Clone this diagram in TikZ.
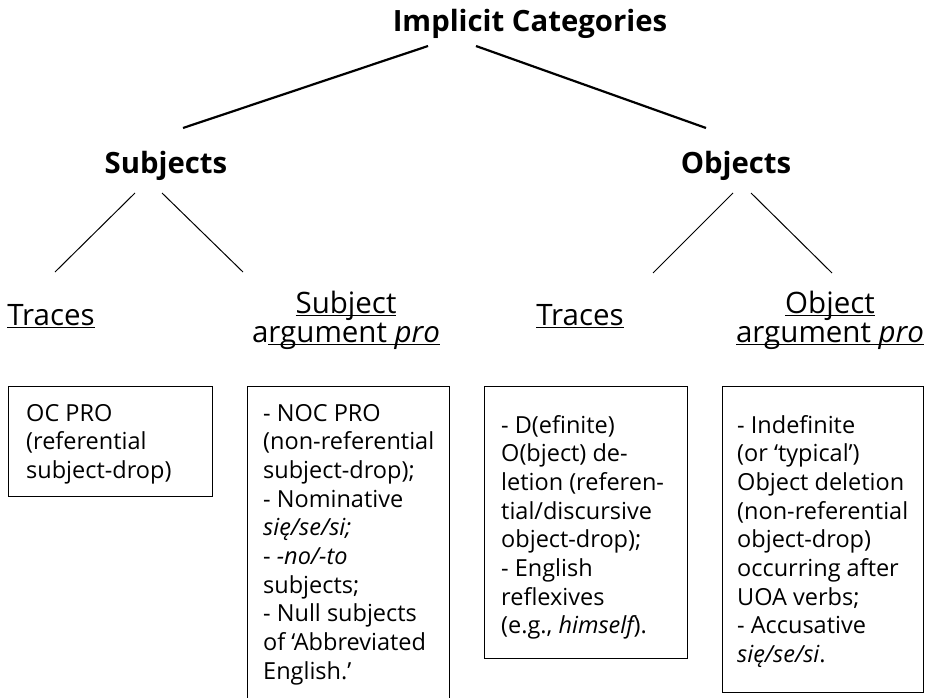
\documentclass[tikz,border=0pt]{standalone}
\usepackage{fontspec}
\setmainfont{Open Sans}
\usetikzlibrary{calc}

% underline at a fixed distance below the baseline (crosses descenders)
\newsavebox\ulinebox
\newcommand\ulx[1]{\sbox\ulinebox{#1}\rlap{\rule[-3.4pt]{\wd\ulinebox}{1.4pt}}\usebox\ulinebox}
% stacked lines whose baseline is that of the first line
\newcommand\leftlines[1]{\begin{tabular}[t]{@{}l@{}}#1\end{tabular}}
\newcommand\centerlines[1]{\begin{tabular}[t]{@{}c@{}}#1\end{tabular}}

\begin{document}
\begin{tikzpicture}[x=1pt,y=-1pt,
  head/.style={font=\fontsize{29.3}{34}\selectfont\bfseries, inner sep=0pt, anchor=base},
  cat/.style={font=\fontsize{29.5}{29}\selectfont, inner sep=0pt, anchor=base},
  box/.style={draw, line width=1.3pt, inner sep=0pt, anchor=north west},
  boxtext/.style={font=\fontsize{23.5}{28.7}\selectfont, inner sep=0pt, anchor=base west},
  branch/.style={line width=2.2pt},
  twig/.style={line width=1pt}]
\useasboundingbox (0,0) rectangle (929,698);

% headings
\node[head] (title) at (530,32) {Implicit Categories};
\node[head] (subj) at (166,173) {Subjects};
\node[head] (obj) at (736,173) {Objects};

% categories
\node[cat] (subjtr) at (51,325) {\ulx{Traces}};
\node[cat] (subjpro) at (346,313) {\centerlines{\ulx{Subject}\\a\ulx{rgument {\itshape pro}}}};
\node[cat] (objtr) at (580,325) {\ulx{Traces}};
\node[cat] (objpro) at (830,313) {\centerlines{\ulx{Object}\\\ulx{argument {\itshape pro}}}};

% branch end points
\coordinate (title-l) at (428,46);
\coordinate (title-r) at (476,46);
\coordinate (subj-top) at (183,128);
\coordinate (obj-top) at (706,128);
\coordinate (subj-l) at (135,193);
\coordinate (subj-r) at (162,193);
\coordinate (obj-l) at (733,193);
\coordinate (obj-r) at (751,193);
\coordinate (subjtr-top) at (55,272);
\coordinate (subjpro-top) at (243,272);
\coordinate (objtr-top) at (653,273);
\coordinate (objpro-top) at (832,273);

\draw[branch] (title-l) -- (subj-top);
\draw[branch] (title-r) -- (obj-top);
\draw[twig] (subj-l) -- (subjtr-top);
\draw[twig] (subj-r) -- (subjpro-top);
\draw[twig] (obj-l) -- (objtr-top);
\draw[twig] (obj-r) -- (objpro-top);

% boxes
\node[box, minimum width=204pt, minimum height=110pt] (b1) at (8,386) {};
\node[box, minimum width=202pt, minimum height=330pt] (b2) at (247,386) {};
\node[box, minimum width=203pt, minimum height=272pt] (b3) at (484,386) {};
\node[box, minimum width=201pt, minimum height=306pt] (b4) at (722,386) {};

\node[boxtext] (t1) at ($(b1.north west)+(18,35)$) {\leftlines{%
OC PRO\\
(referential\\
subject-drop)}};

\node[boxtext] (t2) at ($(b2.north west)+(16,35)$) {\leftlines{%
- NOC PRO\\
(non-referential\\
subject-drop);\\
- Nominative\\
{\itshape się/se/si;}\\
- {\itshape -no/-to}\\
subjects;\\
- Null subjects\\
of ‘Abbreviated\\
English.’}};

\node[boxtext] (t3) at ($(b3.north west)+(17,47)$) {\leftlines{%
- D(efinite)\\
O(bject) de-\\
letion (referen-\\
tial/discursive\\
object-drop);\\
- English\\
reflexives\\
(e.g., {\itshape himself}).}};

\node[boxtext] (t4) at ($(b4.north west)+(15,47)$) {\leftlines{%
- Indefinite\\
(or ‘typical’)\\
Object deletion\\
(non-referential\\
object-drop)\\
occurring after\\
UOA verbs;\\
- Accusative\\
{\itshape się/se/si}.}};
\end{tikzpicture}
\end{document}
